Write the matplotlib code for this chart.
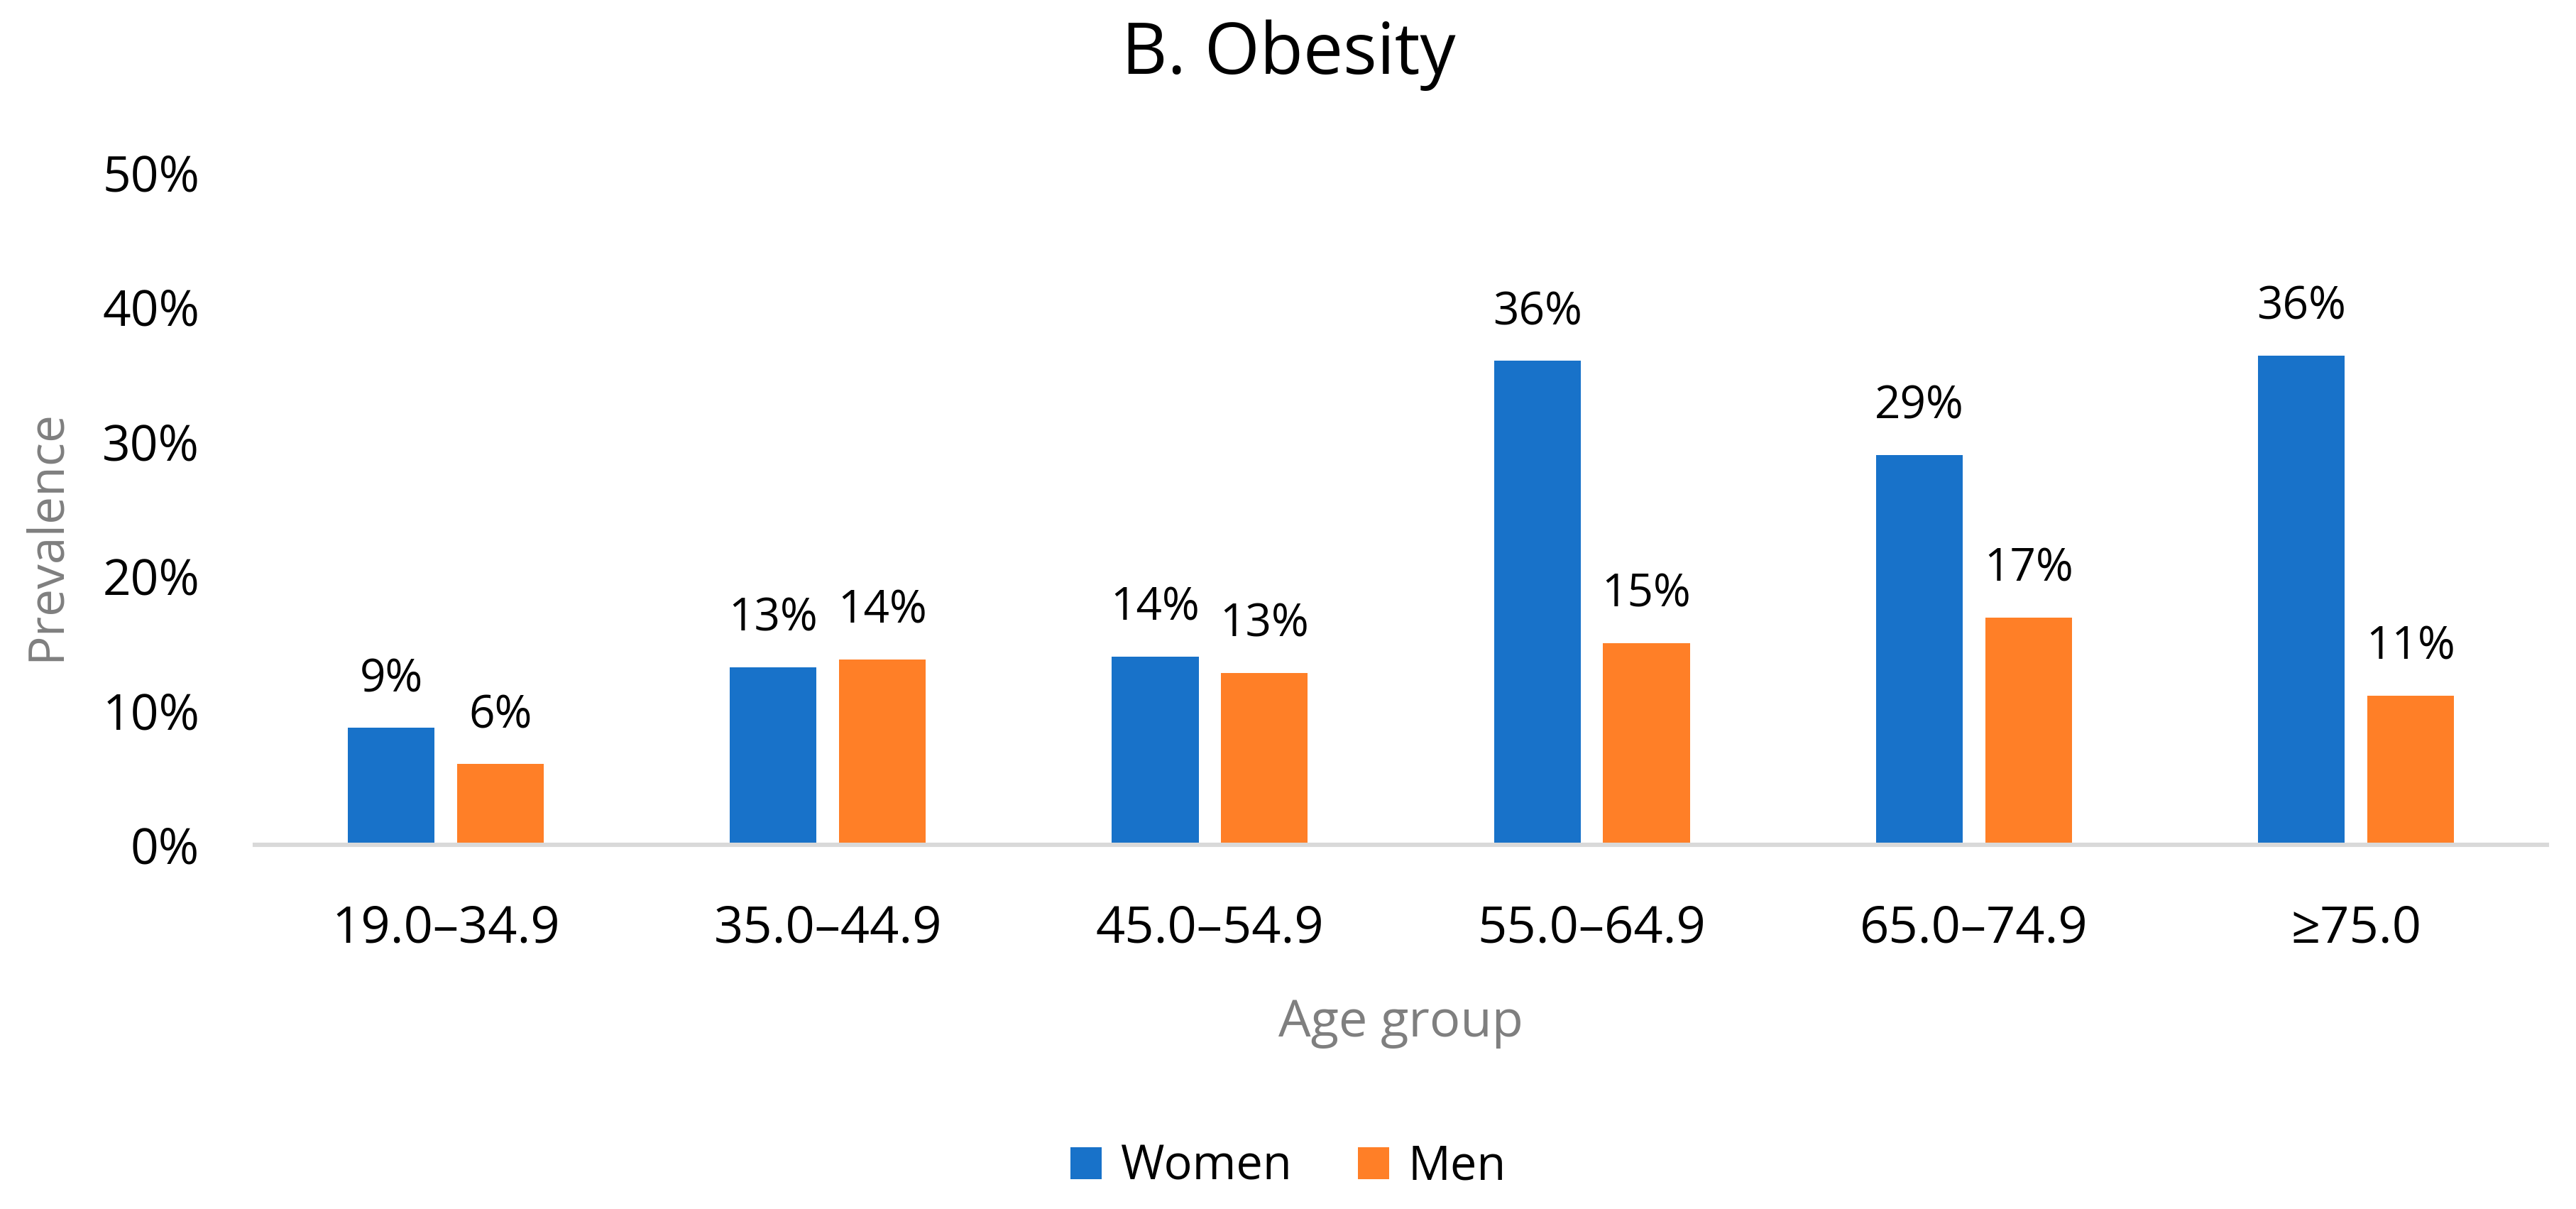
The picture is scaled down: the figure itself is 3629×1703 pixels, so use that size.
import numpy as np
from matplotlib import pyplot as plt
from matplotlib.ticker import PercentFormatter

age_groups = ["19.0\u201334.9", "35.0\u201344.9", "45.0\u201354.9", "55.0\u201364.9", "65.0\u201374.9", "\u226575.0"]
women = [8.7, 13.2, 14.0, 36.0, 29.0, 36.4]
men = [6.0, 13.8, 12.8, 15.0, 16.9, 11.1]
women_labels = ["9%", "13%", "14%", "36%", "29%", "36%"]
men_labels = ["6%", "14%", "13%", "15%", "17%", "11%"]

plt.rcParams['font.family'] = ['Open Sans', 'DejaVu Sans']

fig = plt.figure(figsize=(18.15, 8.515), dpi=200)
ax = fig.add_axes([359 / 3630, 1 - 1190 / 1703, (3588 - 359) / 3630, (1190 - 243) / 1703])

x = np.arange(len(age_groups))
w = 0.227
off = 0.143
b1 = ax.bar(x - off, women, w, color="#1872C9", label="Women")
b2 = ax.bar(x + off, men, w, color="#FF7F27", label="Men")

for bars, labels in ((b1, women_labels), (b2, men_labels)):
    for bar, lab in zip(bars, labels):
        ax.annotate(lab, (bar.get_x() + bar.get_width() / 2, bar.get_height()),
                    xytext=(0, 13), textcoords="offset points",
                    ha="center", va="bottom", fontsize=23, color="black")

ax.set_xlim(-0.5, len(age_groups) - 0.5)
ax.set_ylim(0, 50)
ax.set_yticks([0, 10, 20, 30, 40, 50])
ax.yaxis.set_major_formatter(PercentFormatter(decimals=0))
ax.set_xticks(x)
ax.set_xticklabels(age_groups)
ax.tick_params(axis="x", length=0, labelsize=26, pad=30)
ax.tick_params(axis="y", length=0, labelsize=25, pad=28)

for s in ["top", "right", "left"]:
    ax.spines[s].set_visible(False)
ax.spines["bottom"].set_color("#D9D9D9")
ax.spines["bottom"].set_linewidth(2.2)

ax.set_xlabel("Age group", fontsize=26, color="#7F7F7F", labelpad=22)
ax.set_ylabel("Prevalence", fontsize=25, color="#7F7F7F")
ax.yaxis.set_label_coords(-0.080, 0.46)

fig.suptitle("B. Obesity", fontsize=36, y=1 - 78 / 1703, va="center")

fig.legend(handles=[b1, b2], loc="center", bbox_to_anchor=(0.5, 1 - 1644 / 1703),
           ncol=2, frameon=False, fontsize=24, handlelength=0.65, handleheight=0.65,
           handletextpad=0.4, columnspacing=1.4)

fig.savefig("out.png", dpi=200)
